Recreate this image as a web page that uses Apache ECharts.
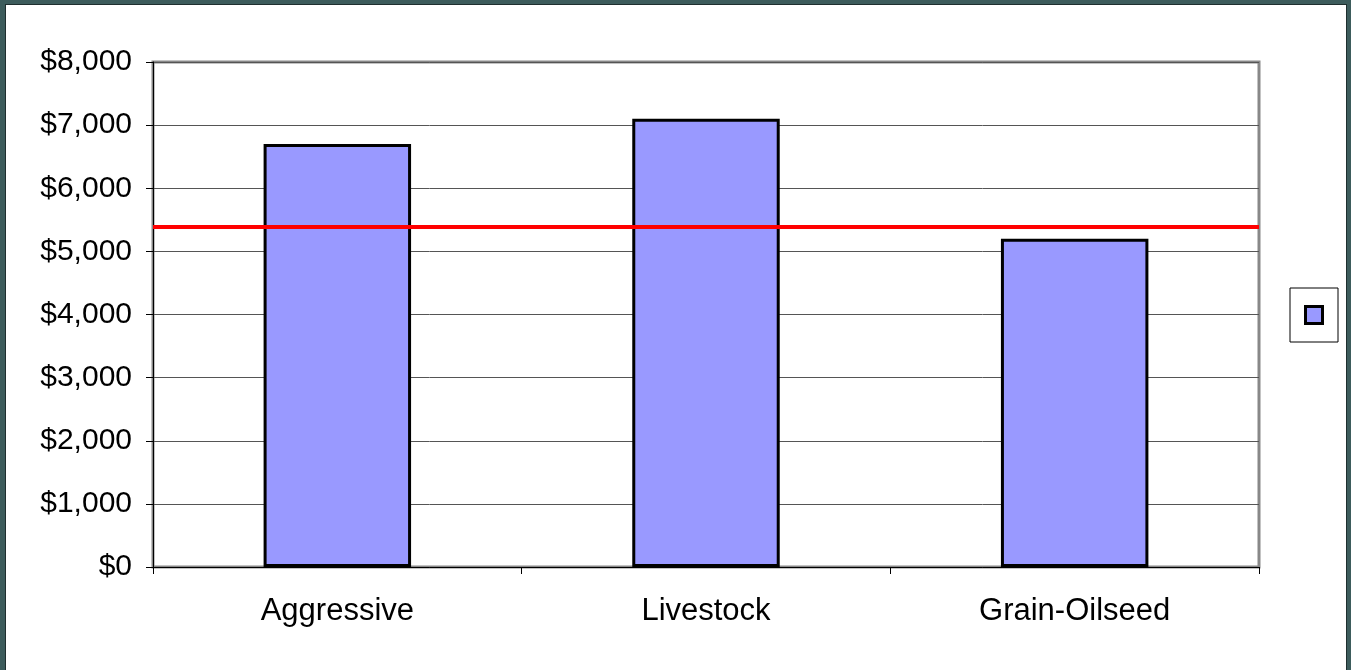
<!DOCTYPE html>
<html>
<head>
<meta charset="utf-8">
<script src="https://cdn.jsdelivr.net/npm/echarts@6/dist/echarts.min.js"></script>
<style>
  html, body { margin: 0; padding: 0; background: #3d5c5c; }
  #frame {
    position: absolute;
    left: 5px; top: 4px; right: 4px; bottom: 0;
    background: #fff;
    box-shadow: inset 1px 1px 0 #1f2f2f, inset -1px 0 0 #1f2f2f;
  }
  #chart { width: 1342px; height: 666px; }
</style>
</head>
<body>
<div id="frame"><div id="chart"></div></div>
<script>
// categories and values
const categories = ['Aggressive', 'Livestock', 'Grain-Oilseed'];
const values = [6700, 7100, 5200];
const referenceLine = 5390;
const yTicks = [0, 8000, 1000]; // min, max, interval

const chart = echarts.init(document.getElementById('chart'));

const option = {
  animation: false,
  textStyle: { fontFamily: 'Liberation Sans, Arial, sans-serif' },
  grid: {
    left: 148,
    right: 88,
    top: 58,
    bottom: 103,
    show: true,
    borderColor: '#888',
    borderWidth: 3,
    backgroundColor: '#fff'
  },
  legend: {
    left: 1285,
    top: 284,
    data: ['Series1'],
    icon: 'rect',
    itemWidth: 17,
    itemHeight: 17,
    itemGap: 0,
    padding: [17, 14, 17, 14],
    borderColor: '#000',
    borderWidth: 1,
    formatter: () => '',
    textStyle: { fontSize: 1 },
    itemStyle: { borderColor: '#000', borderWidth: 3 }
  },
  xAxis: {
    type: 'category',
    data: categories,
    axisLine: { lineStyle: { color: '#000', width: 1 } },
    axisTick: { show: true, length: 7, lineStyle: { color: '#000' } },
    axisLabel: { color: '#000', fontSize: 31, margin: 29 }
  },
  yAxis: {
    type: 'value',
    min: yTicks[0],
    max: yTicks[1],
    interval: yTicks[2],
    axisLine: { show: true, lineStyle: { color: '#000', width: 1 } },
    axisTick: { show: true, length: 7, lineStyle: { color: '#000' } },
    axisLabel: {
      color: '#000',
      fontSize: 30,
      margin: 21,
      padding: [6, 0, 0, 0],
      formatter: v => '$' + v.toLocaleString('en-US')
    },
    splitLine: { lineStyle: { color: '#555', width: 1 } }
  },
  series: [{
    name: 'Series1',
    type: 'bar',
    data: values,
    barWidth: '40%',
    itemStyle: { color: '#9999ff', borderColor: '#000', borderWidth: 3 },
    markLine: {
      silent: true,
      symbol: 'none',
      label: { show: false },
      lineStyle: { color: '#ff0000', width: 4, type: 'solid' },
      data: [{ yAxis: referenceLine }]
    }
  }]
};

chart.setOption(option);
</script>
</body>
</html>
